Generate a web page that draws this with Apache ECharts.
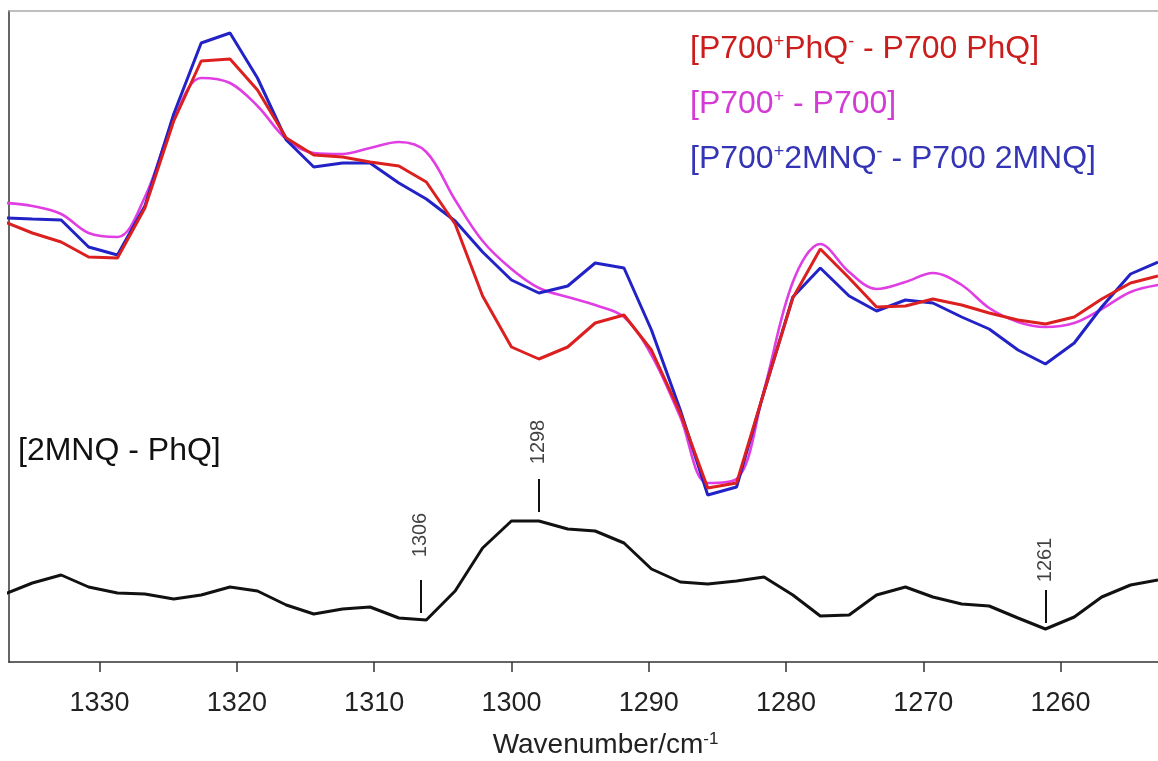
<!DOCTYPE html>
<html>
<head>
<meta charset="utf-8">
<script src="https://cdn.jsdelivr.net/npm/echarts@6/dist/echarts.min.js"></script>
<style>
  html, body { margin: 0; padding: 0; background: #fff; }
  #chart { width: 1158px; height: 761px; }
</style>
</head>
<body>
<div id="chart"></div>
<script>
// wavenumber grid (cm-1)
const wavenumbers = [1336.9, 1334.9, 1332.8, 1330.8, 1328.7, 1326.7, 1324.6, 1322.6, 1320.5, 1318.5,
  1316.4, 1314.4, 1312.3, 1310.3, 1308.2, 1306.2, 1304.1, 1302.1, 1300.0, 1298.0,
  1295.9, 1293.9, 1291.8, 1289.8, 1287.7, 1285.7, 1283.6, 1281.6, 1279.5, 1277.5,
  1275.4, 1273.4, 1271.3, 1269.3, 1267.2, 1265.2, 1263.1, 1261.1, 1259.0, 1257.0,
  1254.9, 1252.9];

// difference spectra, arbitrary units with offsets
const phq = [44.0, 42.9, 42.0, 40.5, 40.4, 45.4, 54.1, 60.1, 60.3, 57.2,
  52.4, 50.7, 50.5, 50.0, 49.6, 48.0, 43.8, 36.6, 31.5, 30.3,
  31.5, 33.9, 34.7, 31.2, 24.9, 17.4, 17.9, 27.0, 36.4, 41.3,
  38.4, 35.5, 35.6, 36.3, 35.7, 34.9, 34.2, 33.8, 34.5, 36.3,
  37.9, 38.6];
const p700 = [45.9, 45.6, 44.8, 42.9, 42.5, 46.5, 54.2, 58.4, 57.9, 55.6,
  52.3, 50.9, 50.8, 51.4, 52.0, 51.0, 46.2, 42.1, 39.3, 37.4,
  36.5, 35.7, 34.5, 30.7, 24.5, 17.9, 18.3, 27.2, 38.0, 41.8,
  39.0, 37.3, 38.0, 38.9, 37.7, 35.4, 34.0, 33.5, 33.9, 35.3,
  37.0, 37.7];
const mnq = [44.4, 44.3, 44.2, 41.5, 40.7, 45.6, 54.8, 61.9, 62.9, 58.4,
  52.2, 49.5, 49.9, 49.9, 47.9, 46.3, 44.1, 41.0, 38.2, 36.9,
  37.6, 39.9, 39.4, 33.2, 25.2, 16.7, 17.5, 27.0, 36.5, 39.4,
  36.6, 35.1, 36.2, 35.9, 34.5, 33.3, 31.2, 29.8, 31.9, 35.5,
  38.8, 40.0];
const doubleDiff = [6.8, 7.9, 8.7, 7.5, 6.9, 6.8, 6.3, 6.7, 7.5, 7.1,
  5.7, 4.8, 5.3, 5.5, 4.4, 4.2, 7.1, 11.4, 14.1, 14.1,
  13.3, 13.1, 11.9, 9.3, 8.0, 7.8, 8.1, 8.5, 6.7, 4.6,
  4.7, 6.7, 7.5, 6.5, 5.8, 5.6, 4.4, 3.3, 4.5, 6.5,
  7.7, 8.2];

// peak markers on the double difference spectrum
const peakWn = [1306.6, 1298.0, 1261.1];
const peakLabels = ['1306', '1298', '1261'];
const peakLineLow = [4.9, 15.0, 3.9];
const peakLineHigh = [8.2, 18.3, 7.2];
const peakLabelY = [12.7, 22.0, 10.2];

const xTicks = [1330, 1320, 1310, 1300, 1290, 1280, 1270, 1260];

const names = ['P700+PhQ- - P700 PhQ', 'P700+ - P700', 'P700+2MNQ- - P700 2MNQ', '2MNQ - PhQ'];
const richNames = {
  'P700+PhQ- - P700 PhQ': '{n|[P700}{s|+}{n|PhQ}{s|-}{n| - P700 PhQ]}',
  'P700+ - P700': '{n|[P700}{s|+}{n| - P700]}',
  'P700+2MNQ- - P700 2MNQ': '{n|[P700}{s|+}{n|2MNQ}{s|-}{n| - P700 2MNQ]}',
  '2MNQ - PhQ': '{n|[2MNQ - PhQ]}'
};
const colors = ['#dc1f1f', '#e03ee3', '#2222c6', '#111111'];
const textColors = ['#cc1d1d', '#d43ad6', '#3434b6', '#111111'];

const font = 'Liberation Sans, Arial, sans-serif';
const rich = {
  n: { fontSize: 32, lineHeight: 32, fontFamily: font },
  s: { fontSize: 18, lineHeight: 18, verticalAlign: 'top', fontFamily: font }
};

const pairs = (ys) => wavenumbers.map((w, i) => [w, ys[i]]);

const chart = echarts.init(document.getElementById('chart'), null, { renderer: 'canvas' });
chart.setOption({
  animation: false,
  backgroundColor: '#fff',
  grid: { left: 9, right: 0, top: 11, bottom: 99, outerBoundsMode: 'none' },
  legend: [{
    orient: 'vertical', left: 680, top: 28, icon: 'none', itemWidth: 0, itemHeight: 32,
    itemGap: 23, selectedMode: false,
    data: names.slice(0, 3).map((n, i) => ({ name: n, textStyle: { color: textColors[i] } })),
    formatter: (n) => richNames[n],
    textStyle: { fontSize: 32, fontFamily: font, rich: rich }
  }, {
    orient: 'vertical', left: 8, top: 430, icon: 'none', itemWidth: 0, itemHeight: 32,
    selectedMode: false,
    data: [{ name: names[3], textStyle: { color: textColors[3] } }],
    formatter: (n) => richNames[n],
    textStyle: { fontSize: 32, fontFamily: font, rich: rich }
  }],
  xAxis: [{
    type: 'value', inverse: true, min: 1252.9, max: 1336.6,
    axisLine: { show: true, onZero: false, lineStyle: { color: '#333', width: 1.5 } },
    axisTick: { show: true, inside: false, length: 10, customValues: xTicks, lineStyle: { color: '#333', width: 1.5 } },
    axisLabel: { customValues: xTicks, formatter: (v) => String(v), fontSize: 27, color: '#222', margin: 28, fontFamily: font },
    splitLine: { show: false },
    name: '{a|Wavenumber/cm}{b|-1}',
    nameLocation: 'middle', nameGap: 69,
    nameTextStyle: {
      padding: [0, 0, 0, 44],
      rich: {
        a: { fontSize: 28, color: '#222', fontFamily: font, lineHeight: 28 },
        b: { fontSize: 17, color: '#222', fontFamily: font, lineHeight: 17, verticalAlign: 'top' }
      }
    }
  }, {
    type: 'value', position: 'top', inverse: true, min: 1252.9, max: 1336.6,
    axisLine: { show: true, onZero: false, lineStyle: { color: '#aaaaaa', width: 1.5 } },
    axisTick: { show: false }, axisLabel: { show: false }, splitLine: { show: false }
  }],
  yAxis: {
    type: 'value', min: 0, max: 65.1,
    axisLine: { show: true, onZero: false, lineStyle: { color: '#666', width: 2 } },
    axisTick: { show: false }, axisLabel: { show: false }, splitLine: { show: false }
  },
  series: [
    { name: names[0], type: 'line', data: pairs(phq), showSymbol: false, z: 3,
      lineStyle: { color: colors[0], width: 3 }, itemStyle: { color: colors[0] } },
    { name: names[1], type: 'line', data: pairs(p700), showSymbol: false, smooth: 0.35, z: 2,
      lineStyle: { color: colors[1], width: 2.6 }, itemStyle: { color: colors[1] } },
    { name: names[2], type: 'line', data: pairs(mnq), showSymbol: false, z: 2,
      lineStyle: { color: colors[2], width: 3 }, itemStyle: { color: colors[2] } },
    { name: names[3], type: 'line', data: pairs(doubleDiff), showSymbol: false, z: 3,
      lineStyle: { color: colors[3], width: 3 }, itemStyle: { color: colors[3] },
      markLine: {
        silent: true, symbol: 'none', animation: false,
        lineStyle: { color: '#111', width: 2, type: 'solid' },
        label: { show: false },
        data: peakWn.map((w, i) => [{ coord: [w, peakLineLow[i]] }, { coord: [w, peakLineHigh[i]] }])
      }
    },
    { name: 'peaks', type: 'scatter', symbolSize: 0, silent: true,
      data: peakWn.map((w, i) => ({ value: [w, peakLabelY[i]], name: peakLabels[i] })),
      label: { show: true, position: 'inside', rotate: 90, formatter: (p) => p.name,
        fontSize: 20, color: '#111', fontFamily: font }
    }
  ]
});
</script>
</body>
</html>
